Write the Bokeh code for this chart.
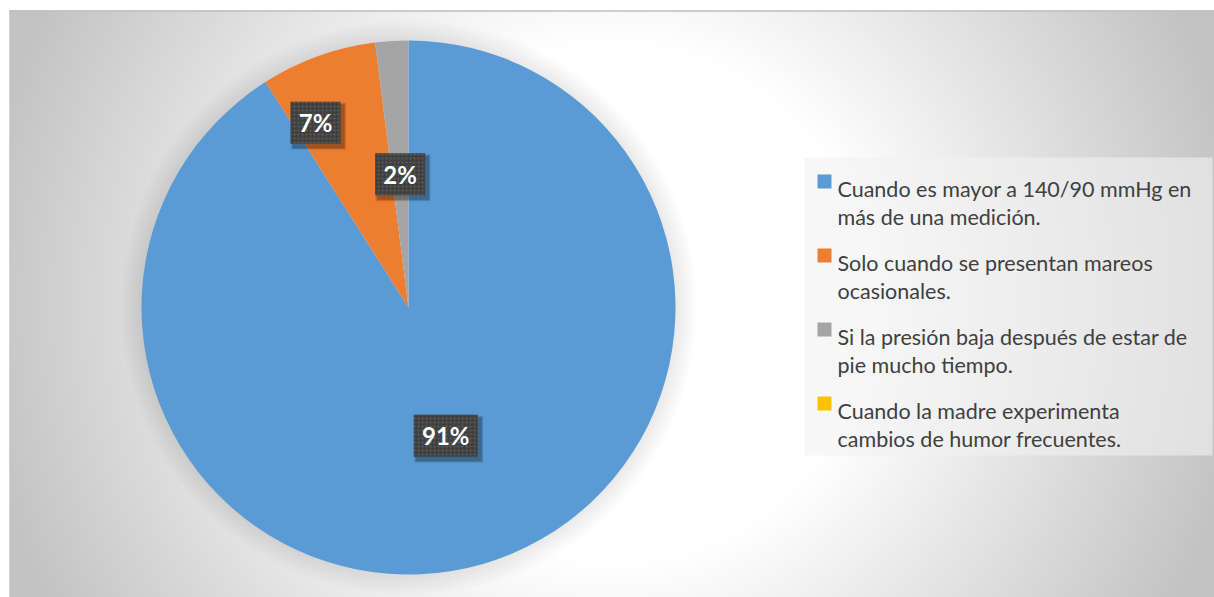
import numpy as np
from bokeh.plotting import figure
from bokeh.models import Range1d, ColumnDataSource
from bokeh.core.properties import value
from bokeh.embed import file_html
from bokeh.resources import INLINE

# ---------------- data ----------------
categories = [
    "Cuando es mayor a 140/90 mmHg en\nmás de una medición.",
    "Solo cuando se presentan mareos\nocasionales.",
    "Si la presión baja después de estar de\npie mucho tiempo.",
    "Cuando la madre experimenta\ncambios de humor frecuentes.",
]
values = [91, 7, 2, 0]
colors = ["#5B9BD5", "#ED7D31", "#A5A5A5", "#FFC000"]

# ---------------- layout ----------------
W, H = 1214, 597
X0, Y0 = 0, 0                     # page offset of the figure
FONT = "Lato"
TEXT_COLOR = "#404040"

p = figure(width=W, height=H, x_range=Range1d(X0, X0 + W), y_range=Range1d(-(Y0 + H), -Y0),
           output_backend="svg", toolbar_location=None, min_border=0,
           x_axis_location=None, y_axis_location=None)
p.grid.visible = False
p.outline_line_color = None
p.background_fill_color = "white"
p.border_fill_color = "white"

# ---------------- background radial gradient ----------------
bx0, by0 = 9, 10
bw, bh = X0 + W - bx0, Y0 + H - by0
gcx, gcy = 611, 303
xs = bx0 + np.arange(bw) + 0.5
ys = (Y0 + H) - np.arange(bh) - 0.5          # row 0 is bottom
XX, YY = np.meshgrid(xs, ys)
rr = np.hypot(XX - gcx, YY - gcy)
t = np.clip((rr - 260) / (640 - 260), 0, 1)
v = (255 - 60 * t).astype(np.uint8)
img = np.empty((bh, bw), dtype=np.uint32)
view = img.view(dtype=np.uint8).reshape((bh, bw, 4))
view[..., 0] = v
view[..., 1] = v
view[..., 2] = v
view[..., 3] = 255
p.image_rgba(image=[img], x=bx0, y=-(Y0 + H), dw=bw, dh=bh)
p.line(x=[bx0, X0 + W], y=[-by0 - 0.5, -by0 - 0.5], line_color="#bebebe", line_width=1.5)
p.line(x=[bx0 + 0.5, bx0 + 0.5], y=[-by0, -(Y0 + H)], line_color="#c4c4c4", line_width=1)

# ---------------- pie ----------------
cx, cy, R = 408, -307, 267
total = float(sum(values))
fracs = [v_ / total for v_ in values]
cum = np.concatenate([[0], np.cumsum(fracs)])
start = [np.pi / 2 - 2 * np.pi * cum[i] for i in range(len(values))]
end = [np.pi / 2 - 2 * np.pi * cum[i + 1] for i in range(len(values))]
nz = [i for i, v_ in enumerate(values) if v_ > 0]

# soft shadow around the pie
halo = list(range(22, 0, -1))
p.circle(x=[cx] * len(halo), y=[cy] * len(halo), radius=[R + k for k in halo],
         fill_color="black", fill_alpha=0.005, line_color=None)

src = ColumnDataSource(dict(start=[start[i] for i in nz], end=[end[i] for i in nz],
                            color=[colors[i] for i in nz]))
p.wedge(x=cx, y=cy, radius=R, start_angle="start", end_angle="end", direction="clock",
        fill_color="color", line_color=None, source=src)

# ---------------- data labels ----------------
label_r = {0: 0.5, 1: 0.775, 2: 0.5}
label_shift = {0: 0.0, 1: np.radians(6.9), 2: 0.0}
lx, ly, lw, lt = [], [], [], []
for i in nz:
    mid = (start[i] + end[i]) / 2 + label_shift.get(i, 0.0)
    rf = label_r.get(i, 0.5)
    lx.append(cx + rf * R * np.cos(mid))
    ly.append(cy + rf * R * np.sin(mid))
    txt = f"{values[i]}%"
    lt.append(txt)
    lw.append(22 + 14 * len(txt))
lh = 42
for d, a in [(5, 0.10), (3.5, 0.12), (2, 0.15)]:
    p.rect(x=[x + 3 for x in lx], y=[y - 3.5 for y in ly], width=[w + d for w in lw],
           height=lh + d, fill_color="black", fill_alpha=a, line_color=None)
p.rect(x=lx, y=ly, width=lw, height=lh, fill_color="#404040", line_color=None,
       hatch_pattern="dot", hatch_color="#5e5e5e", hatch_scale=4, hatch_weight=1.3)
p.text(x=lx, y=ly, text=lt, text_font=value(FONT), text_font_style="bold",
       text_font_size="24px", text_color="white", text_align="center", text_baseline="middle")

# ---------------- legend ----------------
p.quad(left=804, right=1212, top=-157, bottom=-455, fill_color="#f2f2f2", fill_alpha=0.6,
       line_color=None)
first_base, item_gap, line_gap = 188, 74, 28.5
sq_x, sq = 824, 14
tx = 837
for i, cat in enumerate(categories):
    base = first_base + i * item_gap
    p.rect(x=sq_x, y=-(base - sq / 2), width=sq, height=sq, fill_color=colors[i], line_color=None)
    for j, line in enumerate(cat.split("\n")):
        p.text(x=tx, y=-(base + j * line_gap), text=[line], text_font=value(FONT),
               text_font_size="21.5px", text_color=TEXT_COLOR, text_baseline="alphabetic",
               text_align="left")

open("out.html", "w").write(file_html(p, INLINE))
